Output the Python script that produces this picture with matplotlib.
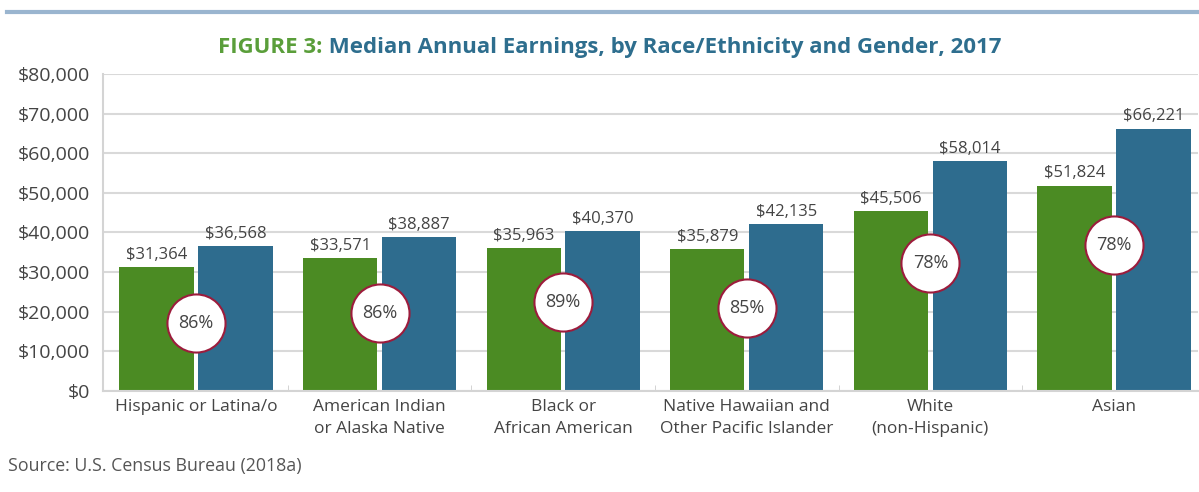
import matplotlib.pyplot as plt
import numpy as np

groups = ['Hispanic or Latina/o', 'American Indian\nor Alaska Native', 'Black or\nAfrican American',
          'Native Hawaiian and\nOther Pacific Islander', 'White\n(non-Hispanic)', 'Asian']
women = [31364, 33571, 35963, 35879, 45506, 51824]
men = [36568, 38887, 40370, 42135, 58014, 66221]
ratio = ['86%', '86%', '89%', '85%', '78%', '78%']
ratio_y = [17200, 19700, 22500, 21000, 32300, 36900]
yticks = [0, 10000, 20000, 30000, 40000, 50000, 60000, 70000, 80000]

green = '#4b8b23'
blue = '#2e6c8e'
txt = '#444444'

plt.rcParams['font.family'] = ['Open Sans', 'DejaVu Sans']

fig = plt.figure(figsize=(11.99, 4.92), dpi=100)
ax = fig.add_axes([0.0859, 0.2053, 0.9131, 0.6443])

x = np.arange(len(groups))
w = 0.405
b1 = ax.bar(x - 0.215, women, w, color=green, zorder=2)
b2 = ax.bar(x + 0.215, men, w, color=blue, zorder=2)

for bars, vals in ((b1, women), (b2, men)):
    for r, v in zip(bars, vals):
        ax.annotate('${:,}'.format(v), (r.get_x() + r.get_width() / 2, v),
                    xytext=(0, 3), textcoords='offset points',
                    ha='center', va='bottom', fontsize=12, color=txt)

ax.scatter(x, ratio_y, s=1750, facecolor='white', edgecolor='#9c1c3c', linewidth=1.5, zorder=3)
for xi, yi, r in zip(x, ratio_y, ratio):
    ax.text(xi, yi, r, ha='center', va='center', fontsize=13, color=txt, zorder=4)

ax.set_xlim(-0.5065, 5.457)
ax.set_ylim(0, 80000)
ax.set_yticks(yticks)
ax.set_yticklabels(['${:,}'.format(t) for t in yticks], fontsize=14, color=txt)
ax.set_xticks(x)
ax.set_xticklabels(groups, fontsize=12.5, color=txt, linespacing=1.5)
ax.tick_params(axis='both', length=0)
ax.tick_params(axis='x', pad=6)
ax.tick_params(axis='y', pad=9)
ax.set_xticks(x[:-1] + 0.5, minor=True)
ax.tick_params(axis='x', which='minor', direction='in', length=4, color='#cccccc')

ax.yaxis.grid(True, color='#d9d9d9', linewidth=1.5, zorder=0)
ax.set_axisbelow(True)
for s in ['top', 'right']:
    ax.spines[s].set_visible(False)
ax.spines['left'].set_color('#d4d4d4')
ax.spines['left'].set_linewidth(1.5)
ax.spines['bottom'].set_color('#d4d4d4')
ax.spines['bottom'].set_linewidth(1.5)

# top rule and two-colour title
fig.add_artist(plt.Line2D([0.006, 1.0], [0.976, 0.976], color='#9ab5cf', linewidth=3))
t1 = fig.text(0.182, 0.893, 'FIGURE 3:', fontsize=16, fontweight='bold', color='#5a9e3a', va='baseline')
fig.canvas.draw()
ax.annotate(' Median Annual Earnings, by Race/Ethnicity and Gender, 2017', xy=(1, 0), xycoords=t1,
            va='bottom', ha='left', fontsize=16, fontweight='bold', color='#2e6e8e',
            annotation_clip=False)

fig.text(0.007, 0.043, 'Source: U.S. Census Bureau (2018a)', fontsize=12.8, color='#555555')

fig.savefig('out.png', dpi=100)
